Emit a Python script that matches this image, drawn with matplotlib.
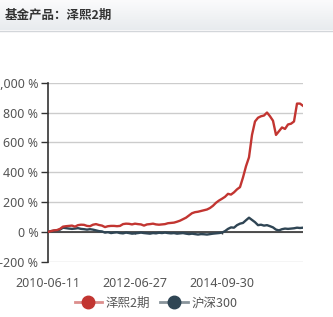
import matplotlib
matplotlib.use("Agg")
import matplotlib.pyplot as plt
from matplotlib.lines import Line2D
import numpy as np

plt.rcParams['font.family'] = ['Noto Sans', 'Noto Sans CJK SC', 'DejaVu Sans']

### Data ###

title = "基金产品：泽熙2期"
series_names = ["泽熙2期", "沪深300"]
tick_labels = ["2010-06-11", "2012-06-27", "2014-09-30"]
tick_index = [0, 29, 58]

# cumulative return (%) of the fund
fund = [0, 5, 10, 12, 20, 35, 38, 40, 42, 35,
        45, 48, 47, 40, 38, 48, 52, 46, 42, 32,
        38, 40, 40, 38, 40, 52, 55, 54, 50, 55,
        52, 50, 42, 50, 52, 55, 50, 48, 50, 52,
        58, 60, 62, 68, 75, 85, 95, 110, 125, 132,
        135, 140, 145, 150, 160, 175, 195, 210, 222, 235,
        255, 250, 265, 285, 300, 365, 440, 500, 650, 740,
        765, 775, 780, 800, 775, 745, 650, 675, 700, 690,
        720, 725, 740, 860, 860, 845]

# cumulative return (%) of CSI 300
hs300 = [0, 5, 8, 10, 15, 28, 25, 22, 20, 22,
         25, 20, 18, 15, 18, 15, 10, 5, 3, -5,
         -2, -8, -5, -3, -8, -10, -5, -8, -12, -10,
         -8, -5, -8, -10, -12, -8, -10, -6, -8, -5,
         -8, -10, -8, -12, -10, -8, -12, -15, -12, -15,
         -18, -15, -16, -18, -15, -12, -10, -8, -5, 5,
         20, 30, 28, 45, 55, 60, 78, 95, 80, 65,
         45, 48, 42, 45, 38, 30, 15, 10, 18, 22,
         20, 22, 24, 28, 26, 28]

colors = ['#c23531', '#2f4554']
legend_line_colors = ['#dc8e8c', '#8a959c']

### Figure ###

W, H = 333, 317
fig = plt.figure(figsize=(W / 100, H / 100), dpi=100)

# header band with a soft gradient
hax = fig.add_axes([0, 1 - 30 / H, 1, 30 / H])
grad = np.linspace(0, 1, 50).reshape(-1, 1)
hax.imshow(grad, aspect='auto', cmap=matplotlib.colors.LinearSegmentedColormap.from_list(
    'hdr', ['#fbfbfc', '#e8ebee']), extent=[0, 1, 0, 1])
hax.set_xlim(0, 1)
hax.set_ylim(0, 1)
hax.axis('off')
hax.text(5 / W, 0.5, title, fontsize=9, fontweight='bold', color='#333333',
         va='center', ha='left', family=['Noto Sans CJK SC', 'DejaVu Sans'])
fig.add_artist(Line2D([0, 1], [1 - 30.5 / H, 1 - 30.5 / H], color='#d3d6da', lw=1))

# main chart
left, right = 48 / W, 303 / W
top, bottom = 1 - 82.7 / H, 1 - 261.7 / H
ax = fig.add_axes([left, bottom, right - left, top - bottom])

x = np.arange(len(fund))
ax.plot(x, hs300, color=colors[1], lw=1.7, zorder=3)
ax.plot(x, fund, color=colors[0], lw=1.7, zorder=4)

ax.set_xlim(0, len(fund) - 1)
ax.set_ylim(-200, 1000)
yt = np.arange(-200, 1001, 200)
ax.set_yticks(yt)
ax.set_yticklabels([f"{v:,} %" for v in yt])
ax.yaxis.grid(True, color='#cccccc', lw=1)
ax.set_axisbelow(True)
ax.tick_params(axis='y', length=5, width=1, color='#333333', pad=2,
               labelsize=9, labelcolor='#555555')

ax.set_xticks(tick_index)
ax.set_xticklabels(tick_labels)
ax.tick_params(axis='x', length=0, pad=11, labelsize=9, labelcolor='#555555')

for s in ['top', 'right', 'bottom']:
    ax.spines[s].set_visible(False)
ax.spines['left'].set_color('#333333')
ax.spines['left'].set_linewidth(1.2)

# x axis line sits on zero
ax.axhline(0, color='#333333', lw=1.2, zorder=2)
ax.vlines(tick_index[1:], -12, 0, color='#333333', lw=1, zorder=2)

# legend
handles = [Line2D([], [], color=lc, lw=2, marker='o', markersize=9,
                  markerfacecolor=c, markeredgecolor=c)
           for c, lc in zip(colors, legend_line_colors)]
leg = fig.legend(handles, series_names, loc='center', bbox_to_anchor=(156 / W, 1 - 303 / H),
                 ncol=2, frameon=False, handlelength=2.2,
                 columnspacing=0.8, handletextpad=0.3,
                 prop={'family': ['Noto Sans CJK SC', 'DejaVu Sans'], 'size': 9})
for t in leg.get_texts():
    t.set_color('#555555')

fig.savefig('out.png', dpi=100)
